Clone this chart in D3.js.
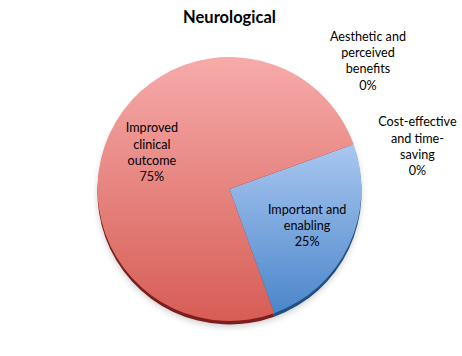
<!DOCTYPE html>
<html>
<head>
<meta charset="utf-8">
<script src="https://cdn.jsdelivr.net/npm/d3@7"></script>
<style>
  html, body { margin: 0; padding: 0; background: #ffffff; }
  svg { display: block; }
  text { font-family: Lato, "Open Sans", "Liberation Sans", sans-serif; fill: #000; }
</style>
</head>
<body>
<svg id="chart" width="462" height="356"></svg>
<script>
// ---- data ----
const title = "Neurological";
const categories = [
  "Important and enabling",
  "Improved clinical outcome",
  "Aesthetic and perceived benefits",
  "Cost-effective and time-saving"
];
const labelLines = [
  ["Important and", "enabling"],
  ["Improved", "clinical", "outcome"],
  ["Aesthetic and", "perceived", "benefits"],
  ["Cost-effective", "and time-", "saving"]
];
const values = [25, 75, 0, 0];

// ---- layout ----
const W = 462, H = 356;
const cx = 229.5, cy = 189, R = 132;
const startDeg = 70.2;
const lineH = 16.3;
const fontSize = 12.6;

const svg = d3.select("#chart");
const defs = svg.append("defs");

const palette = [
  { top: "#a9c7f0", bottom: "#4b86cb", edge: "#234f80" },
  { top: "#f6abaa", bottom: "#d75d55", edge: "#7c1e1e" }
];
palette.forEach((p, i) => {
  const g = defs.append("linearGradient").attr("id", "grad" + i)
    .attr("x1", 0).attr("y1", 0).attr("x2", 0).attr("y2", 1);
  g.append("stop").attr("offset", "0%").attr("stop-color", p.top);
  g.append("stop").attr("offset", "100%").attr("stop-color", p.bottom);
});
const blur = defs.append("filter").attr("id", "shadow")
  .attr("x", "-20%").attr("y", "-20%").attr("width", "140%").attr("height", "140%");
blur.append("feGaussianBlur").attr("stdDeviation", 3);

const total = d3.sum(values);
const pie = d3.pie().sort(null).value(d => d)
  .startAngle(startDeg * Math.PI / 180)
  .endAngle(startDeg * Math.PI / 180 + 2 * Math.PI);
const arcs = pie(values);
const arc = d3.arc().innerRadius(0).outerRadius(R);
const labelArc = d3.arc().innerRadius(R * 0.65).outerRadius(R * 0.65);

const g = svg.append("g").attr("transform", `translate(${cx},${cy})`);

// soft drop shadow
g.append("ellipse").attr("cx", 0).attr("cy", 6).attr("rx", R).attr("ry", R)
  .attr("fill", "#000").attr("opacity", 0.18).attr("filter", "url(#shadow)");

// dark bottom edge
g.selectAll("path.edge").data(arcs.filter(d => d.value > 0)).join("path")
  .attr("class", "edge")
  .attr("transform", "translate(0,3.5)")
  .attr("d", arc)
  .attr("fill", d => palette[d.index].edge);

// slices
g.selectAll("path.slice").data(arcs.filter(d => d.value > 0)).join("path")
  .attr("class", "slice")
  .attr("d", arc)
  .attr("fill", d => `url(#grad${d.index})`);

// labels
const outerOffsets = [-23, 7];   // degrees, spreading zero-size slice labels
const outerR = [1.43, 1.46];
function anchorFor(d) {
  if (d.value > 0) return labelArc.centroid(d);
  const k = d.index - 2;
  const a = (d.startAngle * 180 / Math.PI + outerOffsets[k]) * Math.PI / 180;
  return [Math.sin(a) * R * outerR[k], -Math.cos(a) * R * outerR[k]];
}
arcs.forEach(d => {
  const [x, y] = anchorFor(d);
  const lines = labelLines[d.index].concat([d3.format(".0%")(d.value / total)]);
  const t = g.append("text")
    .attr("text-anchor", "middle")
    .attr("font-size", fontSize);
  const first = y - (lines.length - 1) / 2 * lineH + fontSize * 0.35;
  lines.forEach((ln, i) => {
    t.append("tspan").attr("x", x).attr("y", first + i * lineH).text(ln);
  });
});

// title
svg.append("text").attr("x", cx).attr("y", 23)
  .attr("text-anchor", "middle")
  .attr("font-size", 16.5).attr("font-weight", "bold")
  .text(title);
</script>
</body>
</html>
